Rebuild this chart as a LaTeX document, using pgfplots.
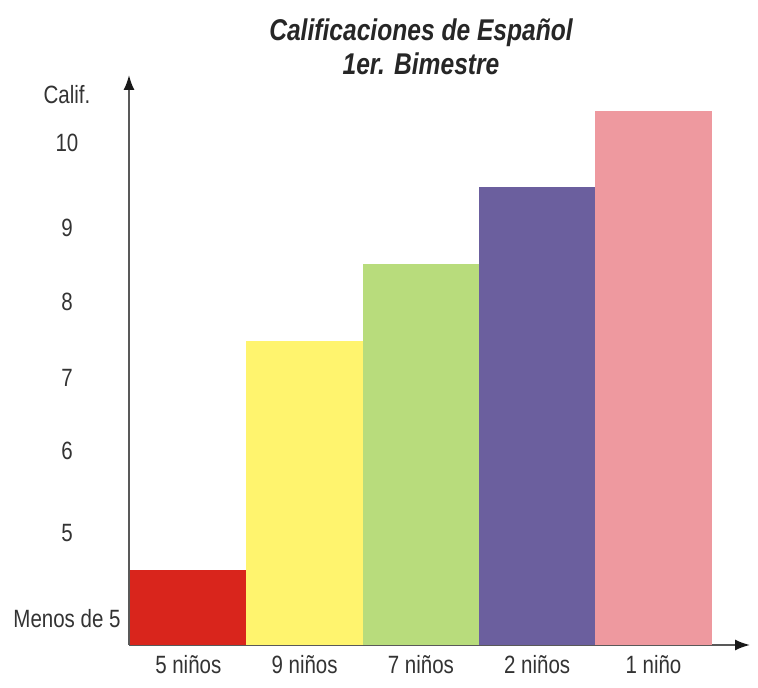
\documentclass[border=0pt]{standalone}
\usepackage{pgfplots}
\pgfplotsset{compat=1.18}
\usetikzlibrary{arrows.meta}
\usepackage{fontspec}
\setmainfont{Liberation Sans}[FakeStretch=0.82]

\definecolor{barRed}{HTML}{D9251C}
\definecolor{barYellow}{HTML}{FFF46E}
\definecolor{barGreen}{HTML}{B8DC7C}
\definecolor{barPurple}{HTML}{6B5F9E}
\definecolor{barPink}{HTML}{EE999F}
\definecolor{txt}{HTML}{333333}

\begin{document}
\begin{tikzpicture}[x=1pt,y=1pt]
\useasboundingbox (0,0) rectangle (758,688);
\begin{axis}[
    at={(129pt,43pt)}, anchor=south west,
    scale only axis, width=621pt, height=570pt,
    xmin=-0.51, xmax=4.83, ymin=0, ymax=7.45,
    axis lines=left,
    axis line style={draw=black!65, line width=1.8pt, -{Latex[length=15pt,width=11pt,color=black!90]}},
    ybar, bar width=1, bar shift=0pt,
    xtick={0,1,2,3,4},
    xticklabels={5 niños, 9 niños, 7 niños, 2 niños, 1 niño},
    ytick={0.35,1.46,2.54,3.49,4.48,5.45,6.56,7.19},
    yticklabels={Menos de 5,5,6,7,8,9,10,Calif.},
    major tick length=0pt,
    tick label style={font=\fontsize{25}{27}\selectfont, text=txt},
    yticklabel style={anchor=center, xshift=-62pt},
    xticklabel style={anchor=center, yshift=-20pt},
]
\addplot[fill=barRed, draw=none] coordinates {(0,0.98)};
\addplot[fill=barYellow, draw=none] coordinates {(1,3.97)};
\addplot[fill=barGreen, draw=none] coordinates {(2,4.98)};
\addplot[fill=barPurple, draw=none] coordinates {(3,5.99)};
\addplot[fill=barPink, draw=none] coordinates {(4,6.98)};
\end{axis}
\node[align=center, text=black!85, font=\fontsize{30}{34}\selectfont\bfseries\itshape] at (421,641) {Calificaciones de Español\\1er. Bimestre};
\end{tikzpicture}
\end{document}
